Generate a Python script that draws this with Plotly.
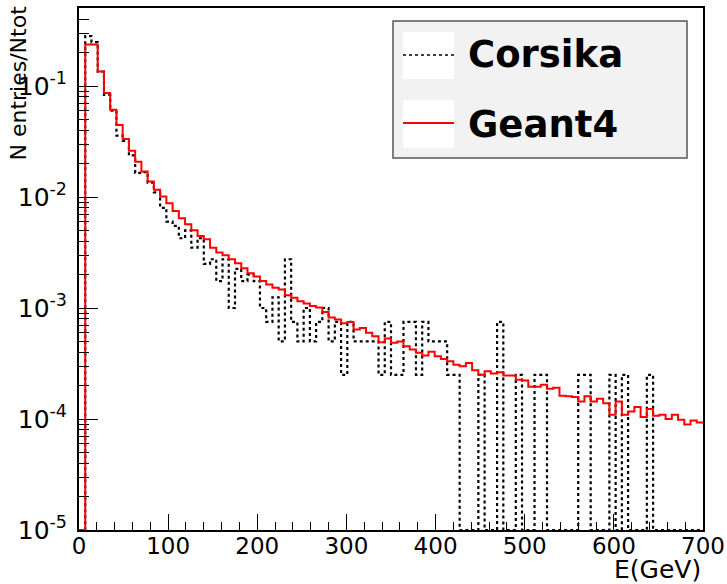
import plotly.graph_objects as go

# ---------------- data ----------------
bin_width = 7.0          # GeV
n_bins = 100
bin_edges = [i * bin_width for i in range(n_bins + 1)]

# Geant4 : N entries / Ntot per 7 GeV bin
geant4_values = [
    0.0, 0.237, 0.237, 0.135, 0.0867, 0.061, 0.0446, 0.0334, 0.0261, 0.0208,
    0.0170, 0.0138, 0.0116, 0.0101, 0.0088, 0.0075, 0.00644, 0.00569, 0.00502, 0.00446,
    0.00416, 0.0035, 0.00316, 0.00299, 0.00275, 0.00253, 0.00228, 0.00206, 0.00192, 0.00175,
    0.00163, 0.00152, 0.00147, 0.00130, 0.00124, 0.00115, 0.00110, 0.00104, 0.00101, 0.00092,
    0.00082, 0.00079, 0.00073, 0.00075, 0.00064, 0.00066, 0.000598, 0.000557, 0.000492, 0.00053,
    0.000487, 0.00050, 0.000453, 0.000423, 0.000395, 0.000373, 0.000403, 0.000368, 0.000348, 0.000331,
    0.000309, 0.000299, 0.00032, 0.000275, 0.000251, 0.000269, 0.000257, 0.000264, 0.000246, 0.000246,
    0.000226, 0.000222, 0.000195, 0.000195, 0.000204, 0.000187, 0.000191, 0.000162, 0.000160, 0.000158,
    0.000144, 0.000160, 0.000144, 0.000152, 0.000139, 0.000109, 0.000144, 0.000109, 0.000117, 0.000128,
    0.000104, 0.000123, 0.000107, 0.000109, 0.000100, 0.000109, 0.0000987, 0.000089, 0.000097, 0.000093,
]

# Corsika : raw entries per bin, normalised by Ntot
corsika_counts = [
    0, 1128, 996, 540, 333, 240, 143, 128, 95, 66,
    67, 54, 44, 32, 24, 22, 17, 20, 14, 17,
    10, 11, 7, 11, 4, 9, 7, 8, 7, 4,
    3, 5, 2, 11, 3, 2, 4, 2, 3, 4,
    2, 3, 1, 3, 2, 2, 2, 2, 1, 3,
    1, 1, 3, 3, 1, 3, 2, 2, 2, 1,
    1, 0, 0, 0, 1, 0, 0, 3, 0, 0,
    1, 0, 0, 1, 1, 0, 0, 0, 0, 0,
    1, 1, 0, 0, 0, 1, 0, 1, 0, 0,
    0, 1, 0, 0, 0, 0, 0, 0, 0, 0,
]
corsika_ntot = 4000
corsika_values = [c / corsika_ntot for c in corsika_counts]

x_ticks = [0, 100, 200, 300, 400, 500, 600, 700]
y_tickvals = [1e-5, 1e-4, 1e-3, 1e-2, 1e-1]
y_ticktext = ["10<sup>-5</sup>", "10<sup>-4</sup>", "10<sup>-3</sup>",
              "10<sup>-2</sup>", "10<sup>-1</sup>"]
series_names = ["Corsika", "Geant4"]

# ---------------- figure ----------------
Y_MIN_LOG = -5
Y_MAX_LOG = -0.297
y_floor = 10 ** Y_MIN_LOG
FONT = "DejaVu Sans"

# plot-area geometry (pixels)
L, R, T, B = 79, 703, 8, 530
W, H = 727, 584


def step_y(vals):
    ys = [v if v > 0 else y_floor for v in vals]
    return ys + [ys[-1]]


fig = go.Figure()
fig.add_trace(go.Scatter(
    x=bin_edges, y=step_y(corsika_values), mode="lines", line_shape="hv",
    name=series_names[0], line=dict(color="black", width=2.2, dash="3px,3px"),
))
fig.add_trace(go.Scatter(
    x=bin_edges, y=step_y(geant4_values), mode="lines", line_shape="hv",
    name=series_names[1], line=dict(color="#ff0000", width=2),
))


def px_x(p):
    return (p - L) / float(R - L)


def px_y(p):
    return (B - p) / float(B - T)


# custom ROOT-like legend box
shapes = [
    dict(type="rect", xref="paper", yref="paper", x0=px_x(393), x1=px_x(687),
         y0=px_y(158), y1=px_y(21), fillcolor="#f2f2f2", line=dict(color="#555555", width=1.5)),
    dict(type="rect", xref="paper", yref="paper", x0=px_x(403), x1=px_x(454),
         y0=px_y(79), y1=px_y(32), fillcolor="white", line=dict(width=0)),
    dict(type="rect", xref="paper", yref="paper", x0=px_x(403), x1=px_x(454),
         y0=px_y(148), y1=px_y(100), fillcolor="white", line=dict(width=0)),
    dict(type="line", xref="paper", yref="paper", x0=px_x(403), x1=px_x(454),
         y0=px_y(55), y1=px_y(55), line=dict(color="black", width=1.6, dash="3px,3px")),
    dict(type="line", xref="paper", yref="paper", x0=px_x(403), x1=px_x(454),
         y0=px_y(123), y1=px_y(123), line=dict(color="#ff0000", width=2)),
]

annotations = [
    dict(text="<b>" + series_names[0] + "</b>", xref="paper", yref="paper",
         x=px_x(466), y=px_y(55), xanchor="left", yanchor="middle", showarrow=False,
         font=dict(family=FONT, size=37, color="black")),
    dict(text="<b>" + series_names[1] + "</b>", xref="paper", yref="paper",
         x=px_x(466), y=px_y(124), xanchor="left", yanchor="middle", showarrow=False,
         font=dict(family=FONT, size=37, color="black")),
    dict(text="N entries/Ntot", xref="paper", yref="paper", textangle=-90,
         x=px_x(18), y=px_y(4), xanchor="center", yanchor="top", showarrow=False,
         font=dict(family=FONT, size=22, color="black")),
    dict(text="E(GeV)", xref="paper", yref="paper",
         x=1.0, y=px_y(569), xanchor="right", yanchor="middle", showarrow=False,
         font=dict(family=FONT, size=25, color="black")),
]

fig.update_layout(
    width=W, height=H,
    margin=dict(l=L, r=W - R, t=T, b=H - B, autoexpand=False),
    paper_bgcolor="white", plot_bgcolor="white",
    showlegend=False,
    font=dict(family=FONT, color="black"),
    shapes=shapes, annotations=annotations,
    xaxis=dict(
        range=[0, 700], tickvals=x_ticks, ticks="inside", ticklen=16, tickwidth=1,
        tickcolor="black", showline=True, linecolor="black", linewidth=2, mirror=True,
        showgrid=False, zeroline=False, automargin=False, ticklabelstandoff=-6,
        tickfont=dict(family=FONT, size=23, color="black"),
        minor=dict(ticks="inside", ticklen=8, dtick=20, tick0=0, tickwidth=1,
                   tickcolor="black", showgrid=False),
    ),
    yaxis=dict(
        type="log", range=[Y_MIN_LOG, Y_MAX_LOG],
        tickvals=y_tickvals, ticktext=y_ticktext,
        ticks="inside", ticklen=19, tickwidth=1, tickcolor="black",
        showline=True, linecolor="black", linewidth=2, mirror=True,
        showgrid=False, zeroline=False, automargin=False, ticklabelstandoff=5,
        tickfont=dict(family=FONT, size=25, color="black"),
        minor=dict(ticks="inside", ticklen=10, dtick="D1", tickwidth=1,
                   tickcolor="black", showgrid=False),
    ),
)

fig.write_html("out.html")
